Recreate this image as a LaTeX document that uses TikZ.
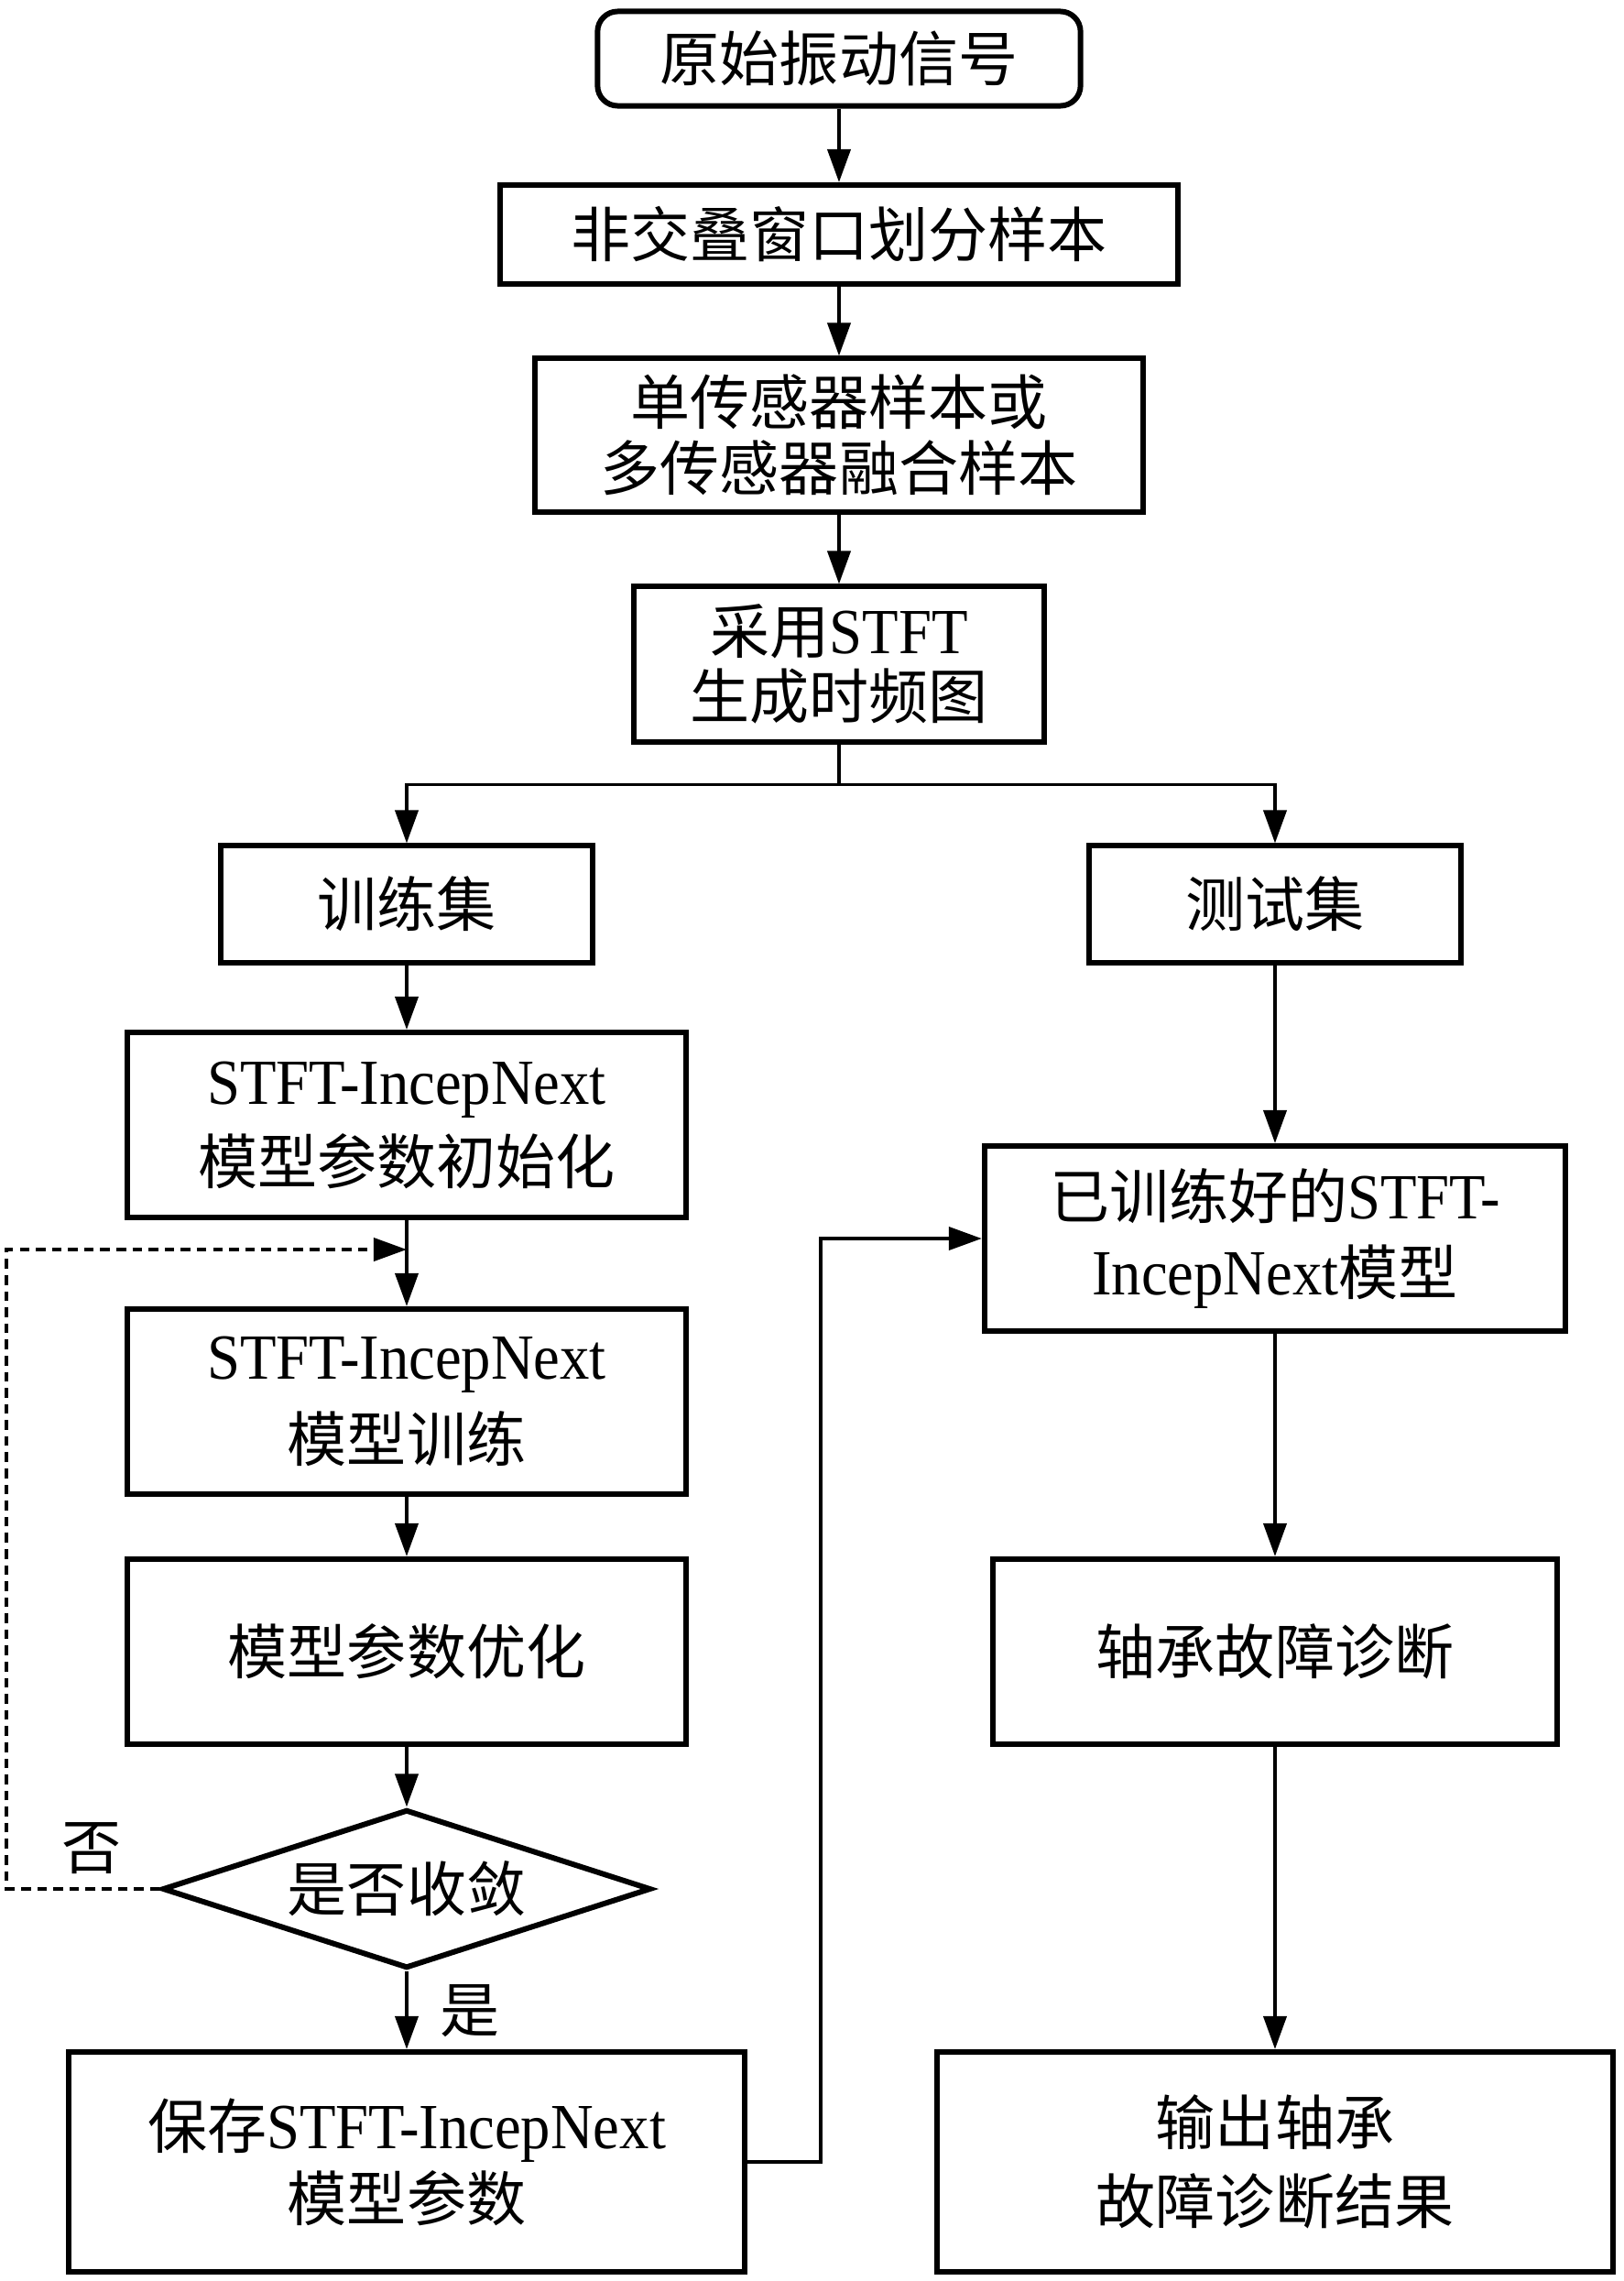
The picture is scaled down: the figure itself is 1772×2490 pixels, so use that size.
\documentclass[tikz,border=0pt]{standalone}
\usepackage{fontspec}
\setmainfont{Liberation Serif}[Scale=1.08,FakeStretch=0.92]
\newfontfamily\cjk{Noto Sans CJK SC}
\usetikzlibrary{arrows.meta,shapes.geometric}
\newcommand\zh[1]{{\cjk #1}}
\begin{document}
\begin{tikzpicture}[x=0.01cm,y=-0.01cm,
  box/.style={draw,line width=1.7pt,align=center,inner sep=0pt,font=\fontsize{18.5}{23}\selectfont},
  arr/.style={line width=1.1pt,-{Triangle[length=3.6mm,width=2.5mm]}},
  ln/.style={line width=1.1pt},
  lbl/.style={inner sep=0pt,font=\fontsize{18.5}{23}\selectfont}]
\path[use as bounding box] (0,0) rectangle (1772,2490);

\node[box,minimum width=5.27cm,minimum height=1.03cm,rounded corners=0.22cm] (n1) at (916,64) {\zh{原始振动信号}};
\node[box,minimum width=7.40cm,minimum height=1.08cm] (n2) at (916,256) {\zh{非交叠窗口划分样本}};
\node[box,minimum width=6.64cm,minimum height=1.67cm,font=\fontsize{18.5}{20.5}\selectfont] (n3) at (916,475) {\zh{单传感器样本或}\\\zh{多传感器融合样本}};
\node[box,minimum width=4.48cm,minimum height=1.69cm,font=\fontsize{18.5}{20}\selectfont] (n4) at (916,725) {\zh{采用}STFT\\\zh{生成时频图}};
\node[box,minimum width=4.06cm,minimum height=1.27cm] (n5) at (444,987) {\zh{训练集}};
\node[box,minimum width=4.06cm,minimum height=1.27cm] (n6) at (1392,987) {\zh{测试集}};
\node[box,minimum width=6.10cm,minimum height=2.02cm,font=\fontsize{18.5}{24.7}\selectfont] (n7) at (444,1228) {STFT-IncepNext\\\zh{模型参数初始化}};
\node[box,minimum width=6.10cm,minimum height=2.02cm,font=\fontsize{18.5}{25.5}\selectfont] (n8) at (444,1530) {STFT-IncepNext\\\zh{模型训练}};
\node[box,minimum width=6.10cm,minimum height=2.02cm] (n9) at (444,1803) {\zh{模型参数优化}};
\node[draw,line width=1.7pt,diamond,aspect=3.08,inner sep=0pt,minimum width=5.33cm,minimum height=1.73cm,font=\fontsize{18.5}{23}\selectfont] (n10) at (444,2062) {\zh{是否收敛}};
\node[box,minimum width=7.38cm,minimum height=2.40cm,font=\fontsize{18.5}{22.5}\selectfont] (n11) at (444,2360) {\zh{保存}STFT-IncepNext\\\zh{模型参数}};
\node[box,minimum width=6.34cm,minimum height=2.02cm,font=\fontsize{18.5}{23.5}\selectfont] (n12) at (1392,1352) {\zh{已训练好的}STFT-\\IncepNext\zh{模型}};
\node[box,minimum width=6.15cm,minimum height=2.02cm] (n13) at (1392,1803) {\zh{轴承故障诊断}};
\node[box,minimum width=7.38cm,minimum height=2.40cm,font=\fontsize{18.5}{24.4}\selectfont] (n14) at (1392,2360) {\zh{输出轴承}\\\zh{故障诊断结果}};

\node[lbl] (no) at (100,2018) {\zh{否}};
\node[lbl] (yes) at (513,2195) {\zh{是}};

\draw[arr] (n1) -- (n2);
\draw[arr] (n2) -- (n3);
\draw[arr] (n3) -- (n4);
\draw[ln] (n4.south) -- ++(0,44) coordinate (split);
\draw[arr] (split) -| (n5.north);
\draw[arr] (split) -| (n6.north);
\draw[arr] (n5) -- (n7);
\draw[arr] (n7) -- (n8);
\draw[arr] (n8) -- (n9);
\draw[arr] (n9) -- (n10);
\draw[arr] (n10) -- (n11);
\coordinate (join) at (444,1364);
\draw[arr,dash pattern=on 3pt off 2pt] (n10.west) -- ++(-167,0) |- (join);
\draw[arr] (n11.east) -- ++(80,0) |- (n12.west);
\draw[arr] (n6) -- (n12);
\draw[arr] (n12) -- (n13);
\draw[arr] (n13) -- (n14);
\end{tikzpicture}
\end{document}
